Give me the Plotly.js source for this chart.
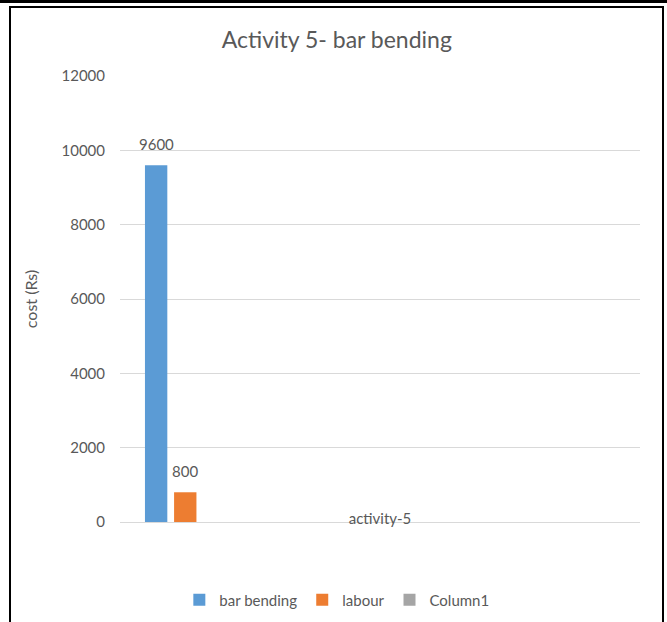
<!DOCTYPE html>
<html>
<head>
<meta charset="utf-8">
<script src="https://cdn.plot.ly/plotly-3.0.1.min.js"></script>
<style>
html,body{margin:0;padding:0;background:#fff;}
#wrap{position:relative;width:667px;height:622px;overflow:hidden;}
#chart{position:absolute;left:0;top:0;width:667px;height:622px;}
.frame{position:absolute;pointer-events:none;border:2px solid #000;}
</style>
</head>
<body>
<div id="wrap">
<div id="chart"></div>
<div class="frame" style="left:-4px;top:0px;width:675px;height:0;border-width:3px 0 0 0;"></div>
<div class="frame" style="left:9px;top:6px;width:651px;height:630px;"></div>
</div>
<script>
const categories = ["activity-5"];
const seriesNames = ["bar bending", "labour", "Column1"];
const barBending = [9600];
const labour = [800];
const column1 = [null];
const yTicks = [0, 2000, 4000, 6000, 8000, 10000, 12000];

const textColor = "#595959";
const fontFam = "Lato, 'Open Sans', sans-serif";

const barOffsets = [-0.452, -0.396, -0.34];
const barWidth = 0.043;

const seriesValues = [barBending, labour, column1];
const colors = ["#5B9BD5", "#ED7D31", "#A5A5A5"];

const traces = seriesNames.map((n, i) => ({
  type:"bar", name:n, x:categories, y:seriesValues[i],
  marker:{color:colors[i]}, offset:barOffsets[i], width:barWidth
}));

const annotations = [];
seriesValues.forEach((vals, i) => {
  vals.forEach((v, j) => {
    if (v === null) return;
    annotations.push({x: j + barOffsets[i] + barWidth/2, y: v, xref:"x", yref:"y",
      text:String(v), showarrow:false, yanchor:"bottom", yshift:10,
      font:{family:fontFam, size:15, color:textColor}});
  });
});

const layout = {
  width:667, height:622,
  margin:{l:120, r:27, t:76, b:100},
  paper_bgcolor:"#fff", plot_bgcolor:"#fff",
  font:{family:fontFam, color:textColor, size:15},
  title:{text:"Activity 5- bar bending", font:{family:fontFam, size:23, color:textColor},
    x:0.505, xref:"container", xanchor:"center", y:1-40/622, yref:"container", yanchor:"middle"},
  barmode:"overlay",
  showlegend:true,
  annotations:annotations,
  legend:{orientation:"h", xref:"container", yref:"container", x:0.505, xanchor:"center",
    y:1-600/622, yanchor:"middle", font:{family:fontFam, size:15, color:textColor},
    itemwidth:30, tracegroupgap:0},
  xaxis:{type:"category", range:[-0.5,0.5], showgrid:false, showline:false, ticks:"",
    ticklabelstandoff:-14, tickfont:{family:fontFam, size:15, color:textColor}, fixedrange:true},
  yaxis:{range:[0,12000], tickvals:yTicks, ticktext:yTicks.map(String), showgrid:true,
    gridcolor:"#D9D9D9", gridwidth:1, zeroline:true, zerolinecolor:"#D9D9D9", zerolinewidth:1,
    showline:false, ticks:"", ticklabelstandoff:14,
    tickfont:{family:fontFam, size:15, color:textColor},
    title:{text:"cost (Rs)", font:{family:fontFam, size:16, color:textColor}, standoff:19}}
};

Plotly.newPlot("chart", traces, layout, {displayModeBar:false, staticPlot:true});
</script>
</body>
</html>
